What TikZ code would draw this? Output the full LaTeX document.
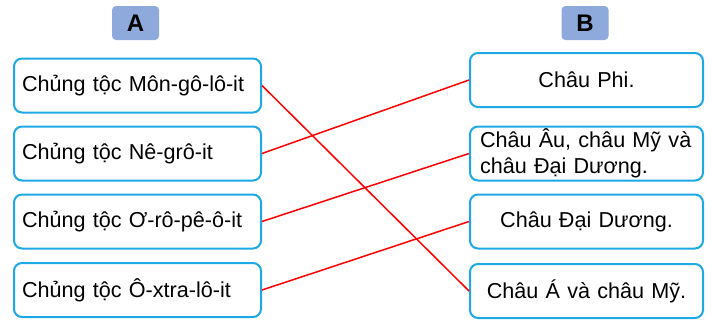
\documentclass[tikz,border=0pt]{standalone}
\usepackage{fontspec}
\setmainfont{Liberation Sans}
\usetikzlibrary{positioning}
\definecolor{boxblue}{HTML}{1DA8E6}
\definecolor{headblue}{HTML}{8EA9DB}
\begin{document}
\begin{tikzpicture}[x=1pt,y=-1pt,
  font=\fontsize{21.6}{26}\selectfont,
  box/.style={draw=boxblue,line width=2pt,rounded corners=8pt,minimum height=54pt,inner ysep=0pt},
  head/.style={fill=headblue,rounded corners=4pt,minimum width=47pt,minimum height=34pt,inner sep=0pt,font=\fontsize{24}{28}\selectfont\bfseries},
  match/.style={draw=red,line width=1.5pt},
]
  \useasboundingbox (0,0) rectangle (712,327);

  \node[head] (hA) at (135.5,23) {A};
  \node[head] (hB) at (585,23) {B};

  % column A
  \foreach \i/\txt/\y in {1/{Chủng tộc Môn-gô-lô-it}/85.5,2/{Chủng tộc Nê-grô-it}/153.5,3/{Chủng tộc Ơ-rô-pê-ô-it}/221.5,4/{Chủng tộc Ô-xtra-lô-it}/290} {
    \node[box,anchor=west,text width=231pt,inner xsep=8pt,align=left] (a\i) at (13,\y) {\txt};
  }

  % column B
  \foreach \i/\txt/\al/\y in {1/{Châu Phi.}/center/80,2/{Châu Âu, châu Mỹ và\\châu Đại Dương.}/left/153.5,3/{Châu Đại Dương.}/center/221.5,4/{Châu Á và châu Mỹ.}/center/291} {
    \node[box,anchor=west,text width=213pt,inner xsep=10pt,align=\al] (b\i) at (469,\y) {\txt};
  }

  \draw[match] (a1.east) -- (b4.west);
  \draw[match] (a2.east) -- (b1.west);
  \draw[match] (a3.east) -- (b2.west);
  \draw[match] (a4.east) -- (b3.west);
\end{tikzpicture}
\end{document}
